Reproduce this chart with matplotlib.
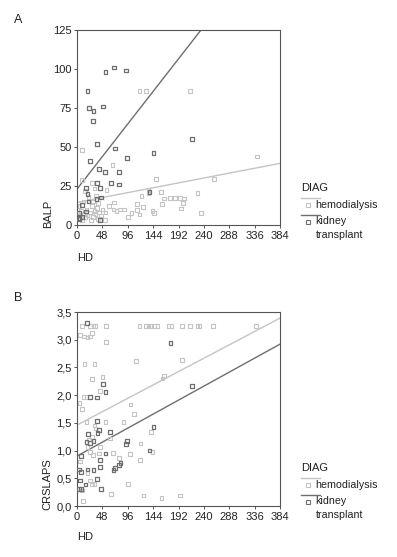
import matplotlib.pyplot as plt
from matplotlib.lines import Line2D

plt.rcParams['font.family'] = ['Liberation Sans', 'DejaVu Sans']

light = '#c4c4c4'
dark = '#6e6e6e'

# panel A: BALP vs HD
a_hemo_x = [118, 130, 214, 341, 259, 228, 202, 200, 197, 234, 9, 10, 67, 149, 28, 33, 56,
            135, 135, 159, 122, 165, 176, 185, 195, 201, 161, 113, 125, 113, 103, 97, 118,
            143, 146, 81, 89, 69, 54, 53, 70, 5, 8, 12, 15, 18, 20, 25, 28, 30, 33, 35,
            38, 40, 42, 45, 12, 22, 30, 36, 26, 15, 40, 48, 10, 3, 60, 75]
a_hemo_y = [86, 86, 86, 44, 29.5, 20.7, 17, 14, 10.5, 7.9, 48, 29, 38.5, 29.7, 27, 23.5, 22.4,
            22.4, 20.7, 21, 18.6, 17, 17.3, 17.3, 17.3, 13.9, 13.5, 13.3, 11.5, 9.6, 7.5, 5.3, 6.8,
            9, 7.8, 10, 10, 10, 8, 3.2, 14.5, 12, 9, 7, 5, 10, 6, 8, 12, 5, 9, 7,
            11, 4, 8, 6, 15, 18, 15, 19, 3, 22, 14, 10, 3, 6, 12, 9]
a_kid_x = [54, 70, 93, 20, 23, 31, 49, 30, 38, 72, 95, 145, 25, 41, 53, 79, 38, 64, 80, 17,
           43, 20, 46, 37, 22, 9, 137, 17, 4, 5, 9, 43, 4, 218]
a_kid_y = [98, 101, 99, 86, 75, 73, 76, 66.5, 52, 49, 43, 46, 41, 36, 34, 34, 27, 27, 26, 23.6,
           23.6, 20, 17.6, 16.7, 15, 13, 21, 8.6, 7.5, 4.7, 5, 3.4, 3.9, 55]
a_fit_x = [0, 384]
a_fit_hemo = [14.5, 39.5]
a_fit_kid = [23, 190]

# panel B: CRSLAPS vs HD
b_hemo_x = [9, 25, 31, 34, 55, 118, 130, 135, 140, 146, 152, 173, 179, 199, 214, 228, 232, 257, 338,
            6, 13, 20, 25, 29, 55, 14, 33, 112, 198, 28, 48, 162, 165, 12, 18, 44, 5, 10, 101, 108,
            18, 54, 88, 140, 120, 63, 68, 100, 79, 119, 143, 6, 20, 25, 28, 33, 9, 11, 64, 97,
            126, 160, 195, 20, 25, 30, 44, 41, 35, 28, 33, 23]
b_hemo_y = [3.25, 3.25, 3.25, 3.25, 3.25, 3.25, 3.25, 3.25, 3.25, 3.25, 3.25, 3.25, 3.25, 3.25, 3.25,
            3.25, 3.25, 3.25, 3.25, 3.09, 3.06, 3.04, 3.06, 3.12, 2.96, 2.56, 2.56, 2.62, 2.64, 2.29,
            2.33, 2.3, 2.35, 1.97, 1.97, 2.07, 1.86, 1.75, 1.83, 1.66, 1.51, 1.52, 1.52, 1.34, 1.13,
            1.22, 0.96, 0.94, 0.87, 0.83, 0.98, 0.8, 0.59, 0.46, 0.39, 0.4, 0.28, 0.09, 0.22, 0.4,
            0.19, 0.14, 0.19, 1.07, 0.98, 0.92, 1.07, 0.95, 1.4, 1.25, 1.45, 1.2]
b_kid_x = [19.5, 177, 49, 54, 25, 38, 38, 145, 41.5, 39, 21, 63, 18, 25, 31, 94, 93, 137, 54, 8,
           43, 44, 4, 8, 20, 31, 69, 72, 79, 82, 38, 6, 16, 46, 4, 7, 218]
b_kid_y = [3.30, 2.94, 2.20, 2.06, 1.97, 1.96, 1.53, 1.43, 1.37, 1.32, 1.30, 1.33, 1.16, 1.14, 1.17,
           1.17, 1.12, 1.0, 0.95, 0.9, 0.83, 0.7, 0.66, 0.61, 0.66, 0.65, 0.65, 0.69, 0.74, 0.78,
           0.49, 0.46, 0.39, 0.31, 0.31, 0.31, 2.17]
b_fit_x = [0, 384]
b_fit_hemo = [1.46, 3.39]
b_fit_kid = [0.9, 2.92]

x_ticks = [0, 48, 96, 144, 192, 240, 288, 336, 384]
a_yticks = [0, 25, 50, 75, 100, 125]
b_yticks = [0.0, 0.5, 1.0, 1.5, 2.0, 2.5, 3.0, 3.5]
b_ylabels = ['0,0', '0,5', '1,0', '1,5', '2,0', '2,5', '3,0', '3,5']

W, H = 397, 557
fig = plt.figure(figsize=(W / 100, H / 100), dpi=100)
fs = 8


def px(x, y):
    return x / W, 1 - y / H


def panel(rect, hx, hy, kx, ky, fx, fy_h, fy_k, ylim, yticks, ylabels):
    ax = fig.add_axes(rect)
    ax.scatter(hx, hy, marker='s', s=7, facecolors='none', edgecolors=light, linewidths=0.8, zorder=2)
    ax.scatter(kx, ky, marker='s', s=7, facecolors='none', edgecolors=dark, linewidths=0.9, zorder=3)
    ax.plot(fx, fy_h, color=light, lw=1.0, zorder=1)
    ax.plot(fx, fy_k, color=dark, lw=1.0, zorder=1)
    ax.set_xlim(0, 384)
    ax.set_ylim(*ylim)
    ax.set_xticks(x_ticks)
    ax.set_yticks(yticks)
    if ylabels:
        ax.set_yticklabels(ylabels)
    for s in ax.spines.values():
        s.set_color('#555555')
        s.set_linewidth(0.8)
    ax.tick_params(length=2.5, width=0.7, color='#555555', labelsize=fs, pad=1.5, labelcolor='#222222')
    return ax


def legend(top):
    fig.text(*px(301, top), 'DIAG', fontsize=fs, va='center', ha='left', color='#222222')
    for dy, col, labels in [(10, light, ['hemodialysis']), (26.5, dark, ['kidney', 'transplant'])]:
        x0, y0 = px(300.5, top + dy)
        x1, _ = px(320, top + dy)
        fig.add_artist(Line2D([x0, x1], [y0, y0], color=col, lw=1.0))
        mx, my = px(307.5, top + dy + 7)
        fig.add_artist(Line2D([mx], [my], marker='s', markersize=3, markerfacecolor='none',
                              markeredgecolor=col, markeredgewidth=0.8, linestyle='none'))
        for i, lab in enumerate(labels):
            fig.text(*px(315.5, top + dy + 7 + 13.5 * i), lab, fontsize=7.7, va='center',
                     ha='left', color='#222222')


# panel A
panel([77 / W, 1 - 225 / H, 203 / W, 195 / H], a_hemo_x, a_hemo_y, a_kid_x, a_kid_y,
      a_fit_x, a_fit_hemo, a_fit_kid, (0, 125), a_yticks, None)
fig.text(*px(14, 20), 'A', fontsize=9, va='center', ha='left', color='#222222')
fig.text(*px(48, 214), 'BALP', fontsize=fs, rotation=90, va='center', ha='center', color='#222222')
fig.text(*px(77, 258), 'HD', fontsize=fs, va='center', ha='left', color='#222222')
legend(188)

# panel B
panel([77 / W, 1 - 506 / H, 203 / W, 194 / H], b_hemo_x, b_hemo_y, b_kid_x, b_kid_y,
      b_fit_x, b_fit_hemo, b_fit_kid, (0, 3.5), b_yticks, b_ylabels)
fig.text(*px(14, 298), 'B', fontsize=9, va='center', ha='left', color='#222222')
fig.text(*px(47, 484), 'CRSLAPS', fontsize=fs, rotation=90, va='center', ha='center', color='#222222')
fig.text(*px(77, 537), 'HD', fontsize=fs, va='center', ha='left', color='#222222')
legend(468)

fig.savefig('out.png', dpi=100)
